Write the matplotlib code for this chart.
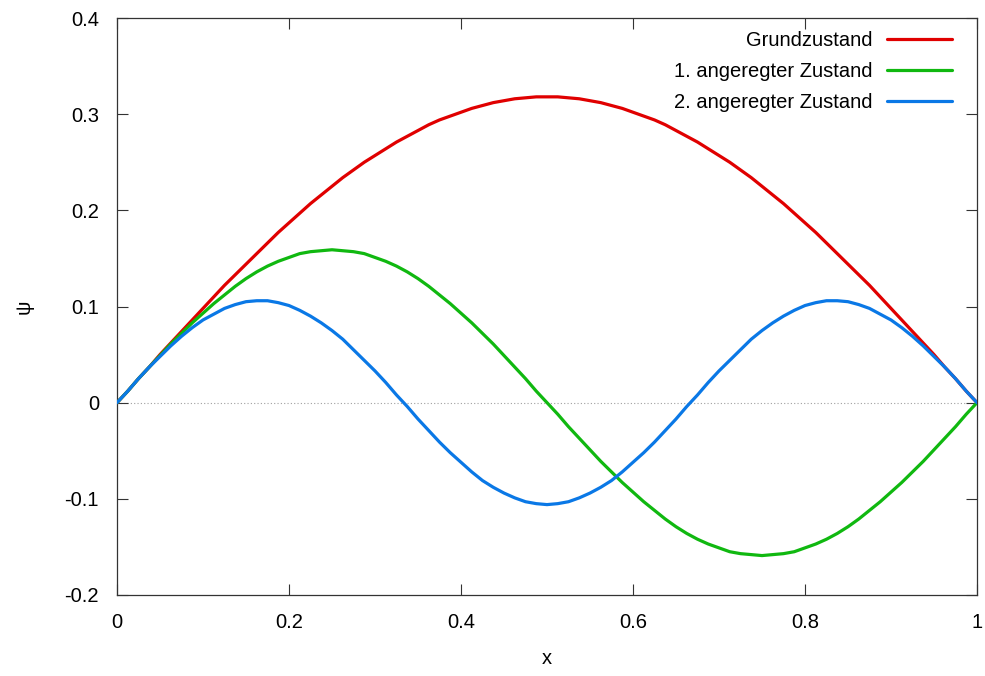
import matplotlib
matplotlib.use("Agg")
import matplotlib.pyplot as plt

plt.rcParams['font.family'] = ['Liberation Sans', 'DejaVu Sans']

# x sample positions (step 0.0125) and values
x = [0.0000, 0.0125, 0.0250, 0.0375, 0.0500, 0.0625, 0.0750, 0.0875, 0.1000, 0.1125,
     0.1250, 0.1375, 0.1500, 0.1625, 0.1750, 0.1875, 0.2000, 0.2125, 0.2250, 0.2375,
     0.2500, 0.2625, 0.2750, 0.2875, 0.3000, 0.3125, 0.3250, 0.3375, 0.3500, 0.3625,
     0.3750, 0.3875, 0.4000, 0.4125, 0.4250, 0.4375, 0.4500, 0.4625, 0.4750, 0.4875,
     0.5000, 0.5125, 0.5250, 0.5375, 0.5500, 0.5625, 0.5750, 0.5875, 0.6000, 0.6125,
     0.6250, 0.6375, 0.6500, 0.6625, 0.6750, 0.6875, 0.7000, 0.7125, 0.7250, 0.7375,
     0.7500, 0.7625, 0.7750, 0.7875, 0.8000, 0.8125, 0.8250, 0.8375, 0.8500, 0.8625,
     0.8750, 0.8875, 0.9000, 0.9125, 0.9250, 0.9375, 0.9500, 0.9625, 0.9750, 0.9875,
     1.0000]

grund = [0.000, 0.012, 0.025, 0.037, 0.050, 0.062, 0.074, 0.086, 0.098, 0.110,
         0.122, 0.133, 0.144, 0.155, 0.166, 0.177, 0.187, 0.197, 0.207, 0.216,
         0.225, 0.234, 0.242, 0.250, 0.257, 0.264, 0.271, 0.277, 0.283, 0.289,
         0.294, 0.298, 0.302, 0.306, 0.309, 0.312, 0.314, 0.316, 0.317, 0.318,
         0.318, 0.318, 0.317, 0.316, 0.314, 0.312, 0.309, 0.306, 0.302, 0.298,
         0.294, 0.289, 0.283, 0.277, 0.271, 0.264, 0.257, 0.250, 0.242, 0.234,
         0.225, 0.216, 0.207, 0.197, 0.187, 0.177, 0.166, 0.155, 0.144, 0.133,
         0.122, 0.110, 0.098, 0.086, 0.074, 0.062, 0.050, 0.037, 0.025, 0.012,
         0.000]

erster = [0.000, 0.012, 0.025, 0.037, 0.049, 0.061, 0.072, 0.083, 0.093, 0.103,
          0.112, 0.121, 0.129, 0.136, 0.142, 0.147, 0.151, 0.155, 0.157, 0.158,
          0.159, 0.158, 0.157, 0.155, 0.151, 0.147, 0.142, 0.136, 0.129, 0.121,
          0.112, 0.103, 0.093, 0.083, 0.072, 0.061, 0.049, 0.037, 0.025, 0.012,
          0.000, -0.012, -0.025, -0.037, -0.049, -0.061, -0.072, -0.083, -0.093, -0.103,
          -0.112, -0.121, -0.129, -0.136, -0.142, -0.147, -0.151, -0.155, -0.157, -0.158,
          -0.159, -0.158, -0.157, -0.155, -0.151, -0.147, -0.142, -0.136, -0.129, -0.121,
          -0.112, -0.103, -0.093, -0.083, -0.072, -0.061, -0.049, -0.037, -0.025, -0.012,
          0.000]

zweiter = [0.000, 0.012, 0.025, 0.037, 0.048, 0.059, 0.069, 0.078, 0.086, 0.092,
           0.098, 0.102, 0.105, 0.106, 0.106, 0.104, 0.101, 0.096, 0.090, 0.083,
           0.075, 0.066, 0.055, 0.044, 0.033, 0.021, 0.008, -0.004, -0.017, -0.029,
           -0.041, -0.052, -0.062, -0.072, -0.081, -0.088, -0.094, -0.099, -0.103, -0.105,
           -0.106, -0.105, -0.103, -0.099, -0.094, -0.088, -0.081, -0.072, -0.062, -0.052,
           -0.041, -0.029, -0.017, -0.004, 0.008, 0.021, 0.033, 0.044, 0.055, 0.066,
           0.075, 0.083, 0.090, 0.096, 0.101, 0.104, 0.106, 0.106, 0.105, 0.102,
           0.098, 0.092, 0.086, 0.078, 0.069, 0.059, 0.048, 0.037, 0.025, 0.012,
           0.000]

labels = ["Grundzustand", "1. angeregter Zustand", "2. angeregter Zustand"]
colors = ["#e00000", "#10b810", "#0a78e6"]

xticks = [0, 0.2, 0.4, 0.6, 0.8, 1]
xticklabels = ["0", "0.2", "0.4", "0.6", "0.8", "1"]
yticks = [-0.2, -0.1, 0, 0.1, 0.2, 0.3, 0.4]
yticklabels = ["-0.2", "-0.1", "0", "0.1", "0.2", "0.3", "0.4"]

FS = 14.5

fig = plt.figure(figsize=(9.85, 6.76), dpi=100)
ax = fig.add_axes([117/985, 1 - 595/676, (977-117)/985, (595-18)/676])

ax.axhline(0, color="#a0a0a0", lw=0.8, ls=(0, (1, 2)), zorder=1)

for ys, lab, c in zip([grund, erster, zweiter], labels, colors):
    ax.plot(x, ys, color=c, lw=2.3, label=lab, solid_joinstyle="round",
            solid_capstyle="round", zorder=3)

ax.set_xlim(0, 1)
ax.set_ylim(-0.2, 0.4)
ax.set_xticks(xticks)
ax.set_xticklabels(xticklabels)
ax.set_yticks(yticks)
ax.set_yticklabels(yticklabels)
ax.tick_params(direction="in", length=8, width=0.8, top=True, right=True,
               labelsize=FS, color="#333333")
ax.tick_params(axis="x", pad=13)
ax.tick_params(axis="y", pad=13)
for s in ax.spines.values():
    s.set_linewidth(0.9)
    s.set_color("#333333")

ax.set_xlabel("x", fontsize=FS, labelpad=12)
ax.set_ylabel("ψ", fontsize=FS, labelpad=22)

leg = ax.legend(loc="upper right", bbox_to_anchor=(0.980, 0.992), frameon=False,
                fontsize=FS, markerfirst=False, handlelength=3.2,
                handletextpad=0.75, labelspacing=0.6, borderaxespad=0)

fig.savefig("out.png", dpi=100)
